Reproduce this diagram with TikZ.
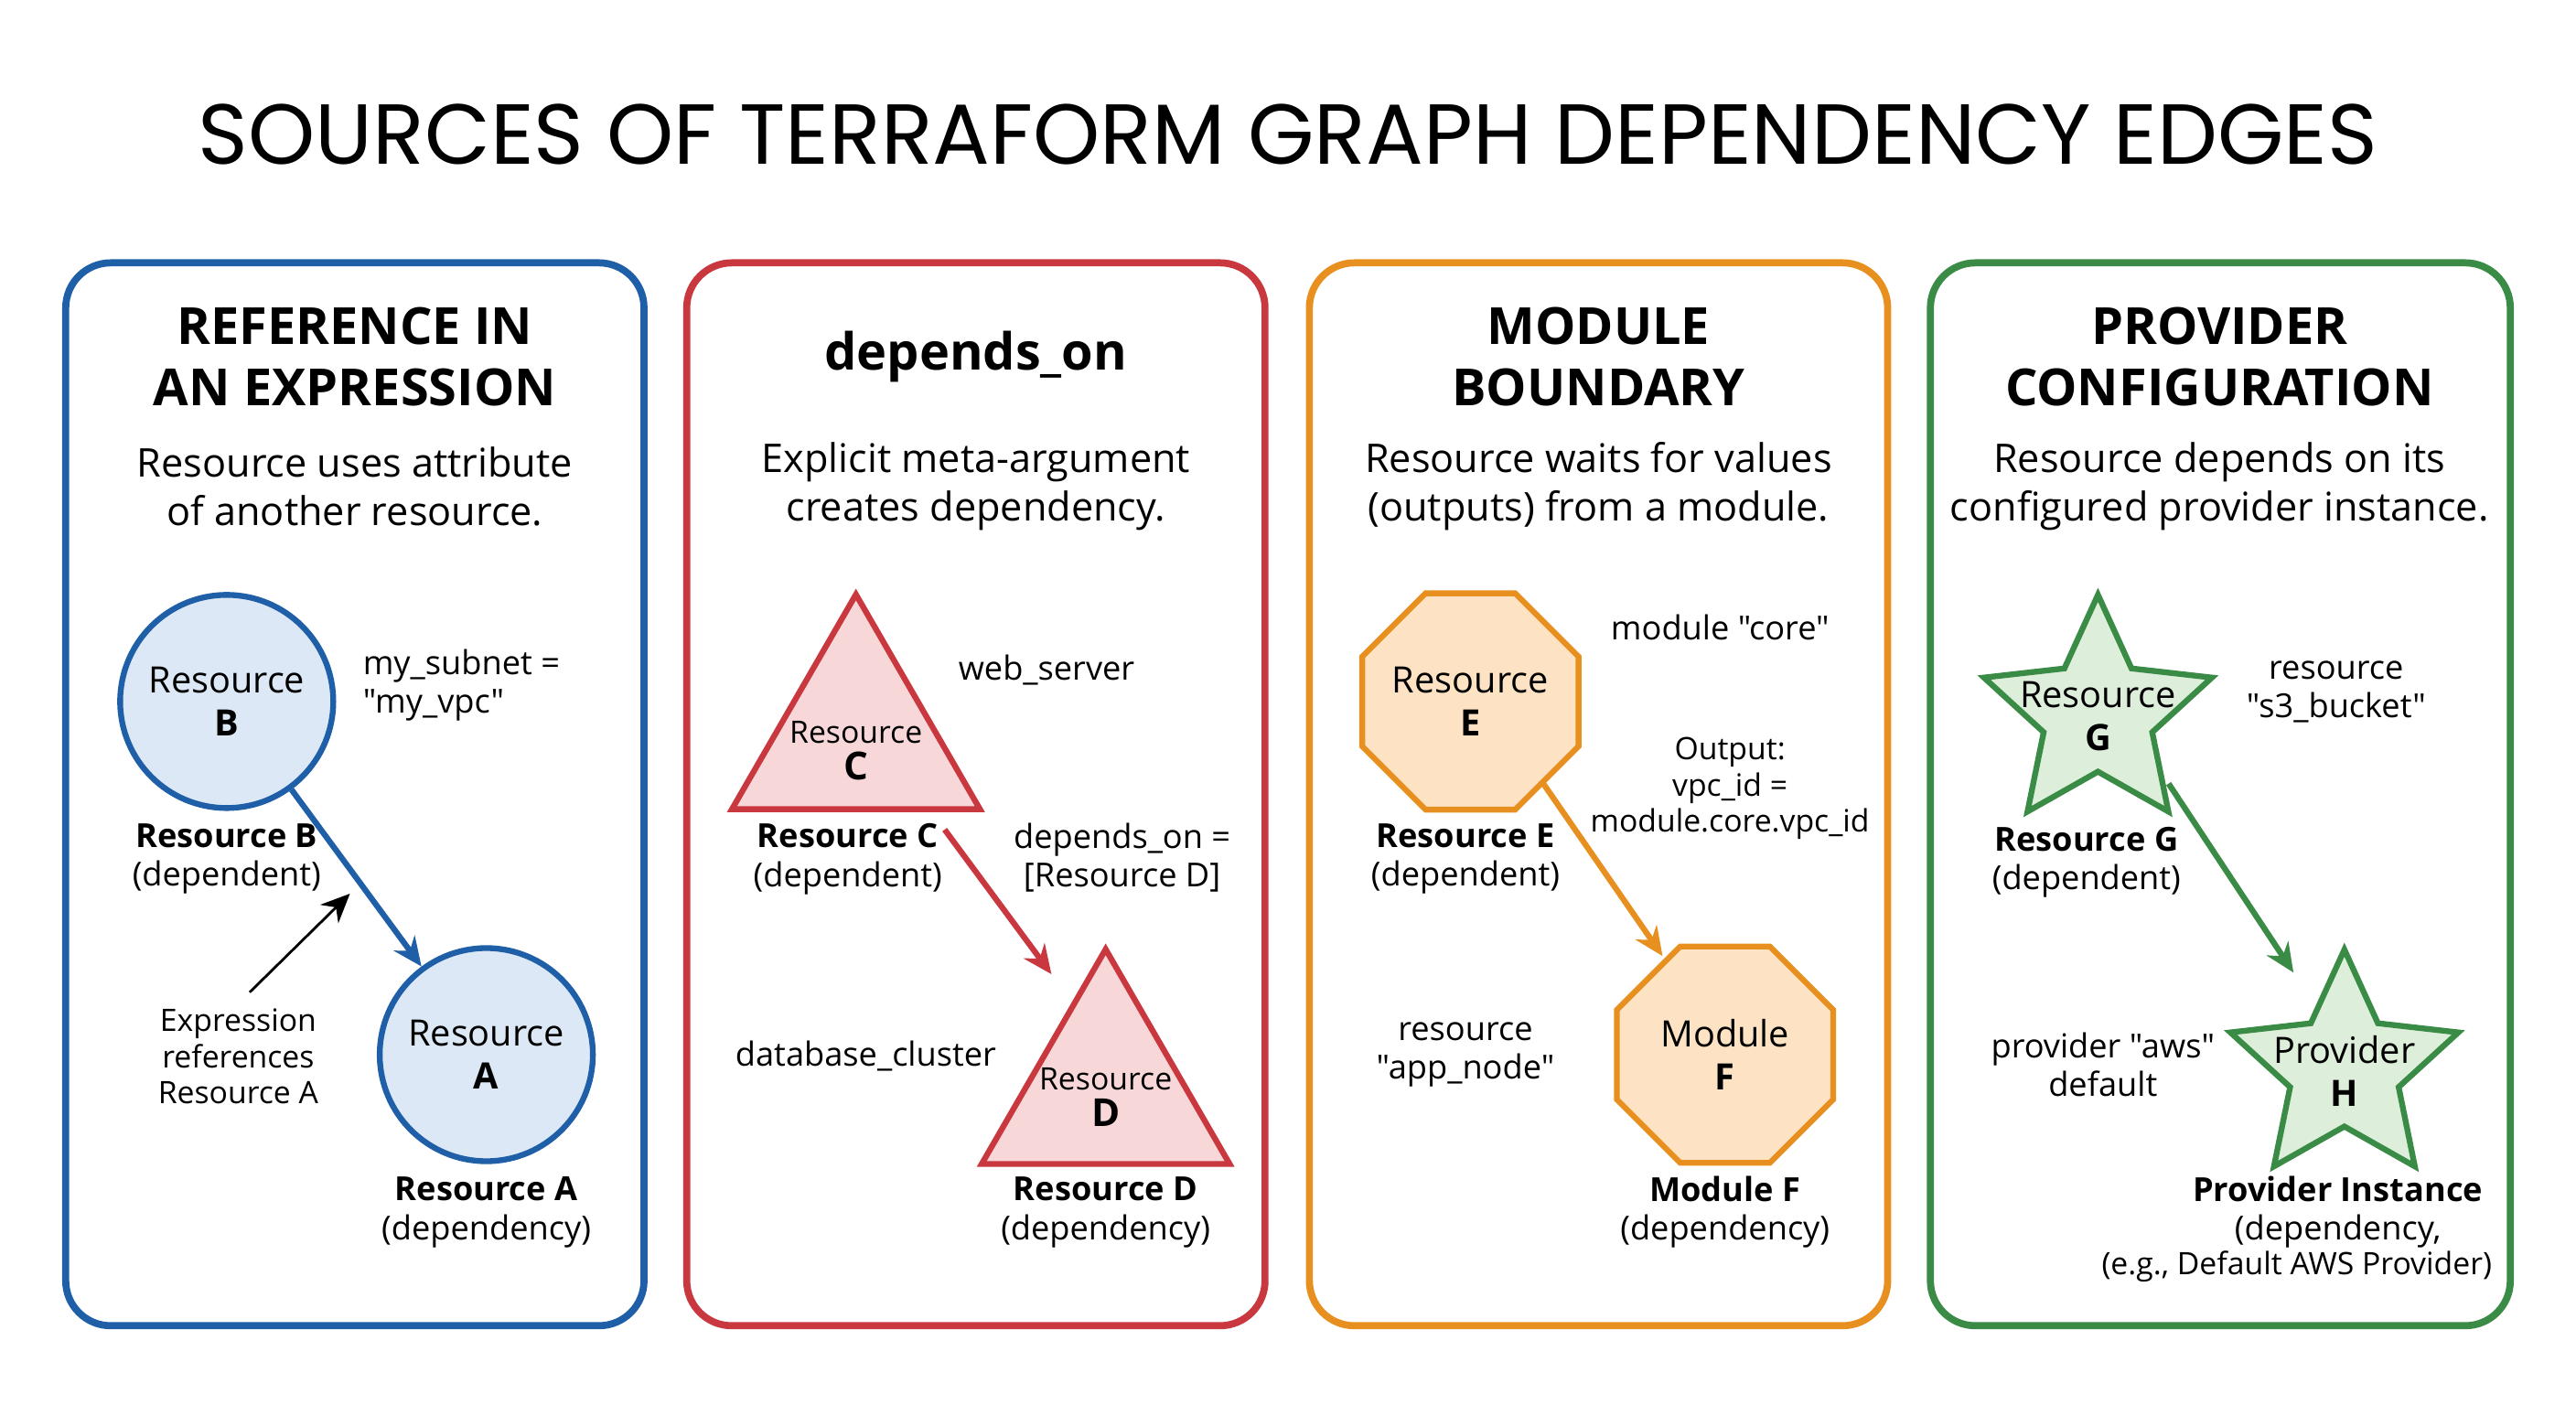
\documentclass[tikz,border=0pt]{standalone}
\usepackage{fontspec}
\setmainfont{Open Sans}[Ligatures=TeXOff]
\newfontfamily\titlefont{Poppins}
\usetikzlibrary{shapes.geometric,arrows.meta}
\definecolor{cblue}{HTML}{1F5FA8}
\definecolor{fblue}{HTML}{DCE8F5}
\definecolor{cred}{HTML}{C9383F}
\definecolor{fred}{HTML}{F8D7D8}
\definecolor{corange}{HTML}{E8901F}
\definecolor{forange}{HTML}{FDE3C4}
\definecolor{cgreen}{HTML}{3A8B45}
\definecolor{fgreen}{HTML}{DDEFDB}
\newcommand\dq{\symbol{34}}
\begin{document}
\begin{tikzpicture}[x=0.01796cm,y=-0.01796cm,>={Stealth[length=9pt,width=8pt]},
    panel/.style={draw=#1,line width=2.2pt,rounded corners=14pt},
    head/.style={font=\fontsize{15.9}{19}\selectfont\bfseries,align=center},
    sub/.style={font=\fontsize{12.3}{15}\selectfont,align=center},
    inner/.style={font=\fontsize{11.3}{13.5}\selectfont,align=center},
    lbl/.style={font=\fontsize{10.3}{12}\selectfont,align=center},
    small/.style={font=\fontsize{9.6}{11.3}\selectfont,align=center},
    circ/.style={circle,draw=cblue,fill=fblue,line width=1.8pt,minimum size=2.33cm},
    tri/.style={regular polygon,regular polygon sides=3,draw=cred,fill=fred,line width=1.8pt,minimum size=3.13cm,inner sep=0pt},
    oct/.style={regular polygon,regular polygon sides=8,draw=corange,fill=forange,line width=1.8pt,minimum size=2.56cm,inner sep=0pt},
    str/.style={star,star points=5,star point ratio=2.1,draw=cgreen,fill=fgreen,line width=1.8pt,minimum size=2.62cm,inner sep=0pt},
    dep/.style={->,line width=1.8pt,draw=#1}]
  \useasboundingbox (0,0) rectangle (1568,855);
  \node[font=\titlefont\fontsize{26.5}{31}\selectfont] (title) at (784,82) {SOURCES OF TERRAFORM GRAPH DEPENDENCY EDGES};

  % panels
  \draw[panel=cblue] (40,160) rectangle (392,807);
  \draw[panel=cred] (418,160) rectangle (770,807);
  \draw[panel=corange] (797,160) rectangle (1149,807);
  \draw[panel=cgreen] (1175,160) rectangle (1528,807);

  % reference in an expression
  \node[head] (h1) at (216,217) {REFERENCE IN\\AN EXPRESSION};
  \node[sub] (s1) at (216,296) {Resource uses attribute\\of another resource.};
  \node[circ] (B) at (138,427) {};
  \node[inner] at (B) {Resource\\\textbf{B}};
  \node[circ] (A) at (296,642) {};
  \node[inner] at (A) {Resource\\\textbf{A}};
  \node[lbl,align=left,anchor=west] (ex1) at (214,417) {my\_subnet =\\\dq my\_vpc\dq};
  \node[lbl] (lb) at (138,523) {\textbf{Resource B}\\(dependent)};
  \node[lbl] (la) at (296,738) {\textbf{Resource A}\\(dependency)};
  \node[small] (note) at (145,643) {Expression\\references\\Resource A};
  \coordinate (n1) at (152,604);
  \coordinate (n2) at (213,544);
  \draw[dep=cblue] (B) -- (A);
  \draw[->,thick] (n1) -- (n2);

  % depends_on
  \node[head] (h2) at (594,217) {depends\_on};
  \node[sub] (s2) at (594,296) {Explicit meta-argument\\creates dependency.};
  \node[tri] (C) at (521,449) {};
  \node[small] at (521,457) {Resource\\\textbf{\large C}};
  \node[tri] (D) at (673,665) {};
  \node[small] at (673,668) {Resource\\\textbf{\large D}};
  \node[lbl] (ws) at (637,408) {web\_server};
  \node[lbl] (do) at (683,522) {depends\_on =\\{}[Resource D]};
  \node[lbl] (lc) at (516,523) {\textbf{Resource C}\\(dependent)};
  \node[lbl] (dc) at (527,643) {database\_cluster};
  \node[lbl] (ld) at (673,738) {\textbf{Resource D}\\(dependency)};
  \draw[dep=cred] (575,505) -- (640,593);

  % module boundary
  \node[head] (h3) at (973,217) {MODULE\\BOUNDARY};
  \node[sub] (s3) at (973,296) {Resource waits for values\\(outputs) from a module.};
  \node[oct] (E) at (895,427) {};
  \node[inner] at (E) {Resource\\\textbf{E}};
  \node[oct] (F) at (1050,642) {};
  \node[inner] at (F) {Module\\\textbf{F}};
  \node[lbl] (mc) at (1047,382) {module \dq core\dq};
  \node[small] (out) at (1053,480) {Output:\\vpc\_id =\\module.core.vpc\_id};
  \node[lbl] (le) at (892,523) {\textbf{Resource E}\\(dependent)};
  \node[lbl] (an) at (892,642) {resource\\\dq app\_node\dq};
  \node[lbl] (lf) at (1050,738) {\textbf{Module F}\\(dependency)};
  \draw[dep=corange] (938,475) -- (1012,582);

  % provider configuration
  \node[head] (h4) at (1351,217) {PROVIDER\\CONFIGURATION};
  \node[sub] (s4) at (1351,296) {Resource depends on its\\configured provider instance.};
  \node[str] (G) at (1277,435) {};
  \node[inner] at (1277,436) {Resource\\\textbf{G}};
  \node[str] (H) at (1427,651) {};
  \node[inner] at (1427,652) {Provider\\\textbf{H}};
  \node[lbl] (s3b) at (1422,421) {resource\\\dq s3\_bucket\dq};
  \node[lbl] (lg) at (1270,525) {\textbf{Resource G}\\(dependent)};
  \node[lbl] (pa) at (1280,648) {provider \dq aws\dq\\default};
  \node[lbl] (lh) at (1423,738) {\textbf{Provider Instance}\\(dependency,};
  \node[small] (eg) at (1398,771) {(e.g., Default AWS Provider)};
  \draw[dep=cgreen] (1320,477) -- (1396,592);
\end{tikzpicture}
\end{document}
